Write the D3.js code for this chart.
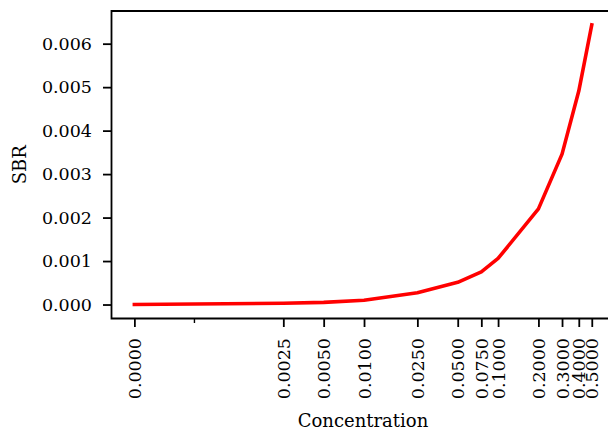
<!DOCTYPE html>
<html>
<head>
<meta charset="utf-8">
<script src="https://cdn.jsdelivr.net/npm/d3@7"></script>
<style>
  body { margin: 0; background: #fff; }
  svg text { font-family: "DejaVu Serif", serif; fill: #000; }
</style>
</head>
<body>
<div id="chart"></div>
<script>
// concentration vs SBR
const concentrations = [0, 0.0025, 0.005, 0.01, 0.025, 0.05, 0.075, 0.1, 0.2, 0.3, 0.4, 0.5];
const sbrValues = [0, 0.00003, 0.00005, 0.0001, 0.00027, 0.00051, 0.00075, 0.00106, 0.0022, 0.00346, 0.00491, 0.00643];
const xTickValues = [0, 0.0025, 0.005, 0.01, 0.025, 0.05, 0.075, 0.1, 0.2, 0.3, 0.4, 0.5];
const xTickLabels = ["0.0000", "0.0025", "0.0050", "0.0100", "0.0250", "0.0500", "0.0750", "0.1000", "0.2000", "0.3000", "0.4000", "0.5000"];
const xMinorTicks = [0.001];
const yTickValues = [0, 0.001, 0.002, 0.003, 0.004, 0.005, 0.006];
const yTickLabels = ["0.000", "0.001", "0.002", "0.003", "0.004", "0.005", "0.006"];

const W = 608, H = 429;
const plotLeft = 111.5, plotTop = 11, plotBottom = 318.5;

// matplotlib-like symlog transform (linthresh 0.0025, linscale 1)
const linthresh = 0.0025;
const linscaleAdj = 1 / (1 - 1 / 10);
function symlog(v) {
    const a = Math.abs(v);
    if (a <= linthresh) return v / linthresh * linscaleAdj;
    return Math.sign(v) * (linscaleAdj + Math.log10(a / linthresh));
}

const svg = d3.select("#chart")
    .append("svg")
    .attr("width", W)
    .attr("height", H);

// x scale on transformed values, 5% margins
const tMin = symlog(d3.min(concentrations)), tMax = symlog(d3.max(concentrations));
const tPad = (tMax - tMin) * 0.05;
const pxPerUnit = (591.7 - 134.3) / (tMax - tMin);
const plotRight = plotLeft + (tMax - tMin + 2 * tPad) * pxPerUnit;
const x = d3.scaleLinear()
    .domain([tMin - tPad, tMax + tPad])
    .range([plotLeft, plotRight]);

const yMax = d3.max(sbrValues), yMin = d3.min(sbrValues);
const yPad = (yMax - yMin) * 0.05;
const y = d3.scaleLinear()
    .domain([yMin - yPad, yMax + yPad])
    .range([plotBottom, plotTop]);

// line
svg.append("path")
    .datum(concentrations.map((c, i) => ({x: c, y: sbrValues[i]})))
    .attr("fill", "none")
    .attr("stroke", "#ff0000")
    .attr("stroke-width", 3.6)
    .attr("stroke-linecap", "square")
    .attr("stroke-linejoin", "round")
    .attr("d", d3.line()
        .x(d => x(symlog(d.x)))
        .y(d => y(d.y)));

// frame (top + left + bottom spines, right is off-canvas)
svg.append("path")
    .attr("fill", "none")
    .attr("stroke", "#000")
    .attr("stroke-width", 1.8)
    .attr("d", `M${plotRight},${plotTop}H${plotLeft}V${plotBottom}H${plotRight}`);

// x axis
const xAxis = svg.append("g")
    .attr("transform", `translate(0,${plotBottom})`)
    .call(d3.axisBottom(x)
        .tickValues(xTickValues.map(symlog))
        .tickFormat((d, i) => xTickLabels[i])
        .tickSize(8.5)
        .tickPadding(0));
xAxis.select(".domain").remove();
xAxis.selectAll(".tick line").attr("stroke", "#000").attr("stroke-width", 1.8);
xAxis.selectAll(".tick text")
    .attr("font-size", "17.5px")
    .attr("font-family", "DejaVu Serif")
    .attr("transform", "rotate(-90)")
    .attr("text-anchor", "end")
    .attr("dy", "0.35em")
    .attr("x", -19.5)
    .attr("y", 0);

const xMinor = svg.append("g")
    .attr("transform", `translate(0,${plotBottom})`)
    .call(d3.axisBottom(x)
        .tickValues(xMinorTicks.map(symlog))
        .tickFormat("")
        .tickSize(4.5));
xMinor.select(".domain").remove();
xMinor.selectAll(".tick line").attr("stroke", "#000").attr("stroke-width", 1.4);

// y axis
const yAxis = svg.append("g")
    .attr("transform", `translate(${plotLeft},0)`)
    .call(d3.axisLeft(y)
        .tickValues(yTickValues)
        .tickFormat((d, i) => yTickLabels[i])
        .tickSize(8.5)
        .tickPadding(11));
yAxis.select(".domain").remove();
yAxis.selectAll(".tick line").attr("stroke", "#000").attr("stroke-width", 1.8);
yAxis.selectAll(".tick text")
    .attr("font-size", "17.5px")
    .attr("font-family", "DejaVu Serif");

// axis labels
svg.append("text")
    .attr("x", x(symlog(0.01)) - 1)
    .attr("y", 426.5)
    .attr("text-anchor", "middle")
    .attr("font-size", "18px")
    .text("Concentration");

svg.append("text")
    .attr("transform", `translate(25.5,${(plotTop + plotBottom) / 2}) rotate(-90)`)
    .attr("text-anchor", "middle")
    .attr("font-size", "18px")
    .text("SBR");
</script>
</body>
</html>
